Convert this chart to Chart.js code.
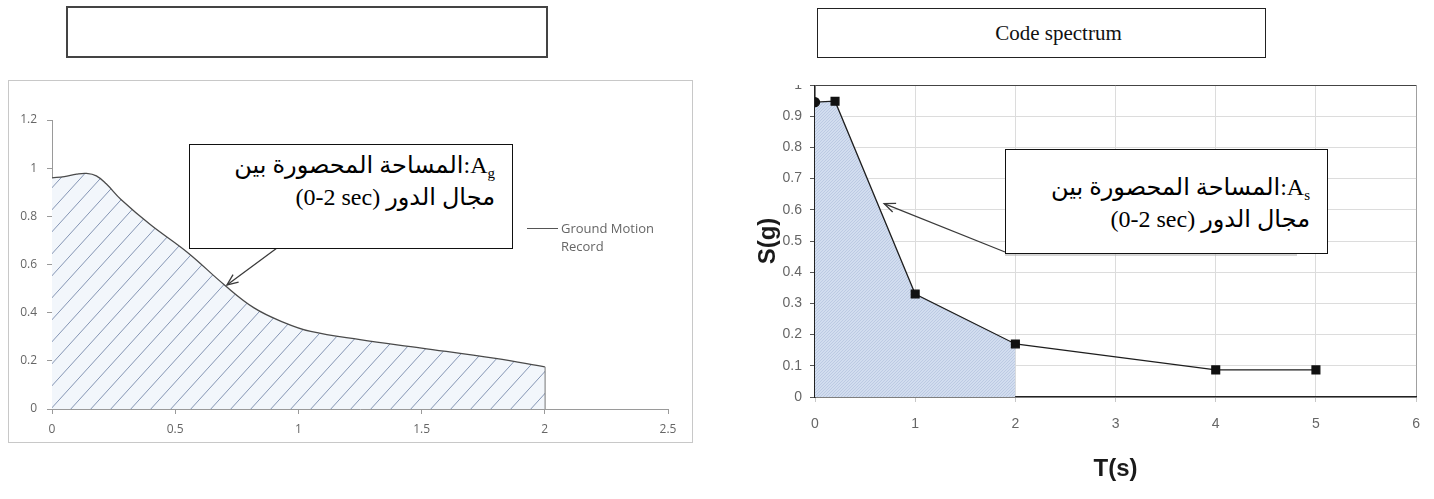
<!DOCTYPE html>
<html>
<head>
<meta charset="utf-8">
<script src="https://cdn.jsdelivr.net/npm/chart.js@4.4.1/dist/chart.umd.min.js"></script>
<style>
body { margin:0; width:1434px; height:499px; background:#fff; position:relative; overflow:hidden; }
.box { position:absolute; box-sizing:border-box; background:#fff; }
#topLeft { left:66px; top:6px; width:482px; height:52px; border:2px solid #444; }
#topRight { left:817px; top:8px; width:449px; height:50px; border:1.5px solid #222;
  font:21px "Liberation Serif", serif; color:#111; display:flex; align-items:center; justify-content:center; padding-left:34px; }
#frameL { left:8px; top:80px; width:685px; height:363px; border:1px solid #c8c8c8; }
#frameL canvas { position:absolute; left:0; top:0; }
#wrapR { position:absolute; left:740px; top:85px; width:694px; height:414px; overflow:hidden; }
#wrapR canvas { position:absolute; left:0; top:-25px; }
.note { position:absolute; box-sizing:border-box; background:#fff; border:1.5px solid #111; z-index:2;
  font-family:"Liberation Serif","DejaVu Sans",serif; font-size:24px; color:#000;
  padding-right:17px; text-align:right; white-space:nowrap; }
.note > div { height:32px; line-height:32px; overflow:visible; }
.note sub { font-size:15px; vertical-align:baseline; position:relative; top:5px; line-height:0; }
#noteL { left:189px; top:144px; width:324px; height:105px; padding-top:4px; }
#noteR { left:1005px; top:149px; width:323px; height:105px; padding-top:21px; }
#legL { position:absolute; left:527px; top:219px; font:13px "Open Sans", sans-serif; color:#666; line-height:18px; z-index:1; }
#legL .ln { position:absolute; left:0; top:9px; width:31px; border-top:1px solid #555; }
#legL .tx { position:absolute; left:34px; top:0; white-space:nowrap; }
</style>
</head>
<body>
<div class="box" id="topLeft"></div>
<div class="box" id="topRight">Code spectrum</div>

<div class="box" id="frameL"><canvas id="chartL" width="683" height="361"></canvas></div>
<div id="legL"><div class="ln"></div><div class="tx">Ground Motion<br>Record</div></div>
<div class="note" id="noteL" dir="rtl"><div>A<sub>g</sub>:المساحة المحصورة بين</div><div>مجال الدور <bdi dir="ltr">(0-2 sec)</bdi></div></div>

<div id="wrapR"><canvas id="chartR" width="694" height="439"></canvas></div>
<div class="note" id="noteR" dir="rtl"><div>A<sub>s</sub>:المساحة المحصورة بين</div><div>مجال الدور <bdi dir="ltr">(0-2 sec)</bdi></div></div>

<script>
// ground motion record (left)
const gmT = [0, 0.05, 0.1, 0.14, 0.18, 0.22, 0.28, 0.4, 0.55, 0.7, 0.82, 0.94, 1.05, 1.25, 1.5, 1.8, 2.0]
const gmS = [0.96, 0.965, 0.975, 0.978, 0.968, 0.935, 0.87, 0.765, 0.65, 0.515, 0.42, 0.36, 0.322, 0.288, 0.253, 0.21, 0.175]
const gmX = [0, 2.5, 0.5]   // min, max, step
const gmY = [0, 1.2, 0.2]

// code spectrum (right)
const csT = [0, 0.2, 1, 2, 4, 5]
const csS = [0.945, 0.948, 0.33, 0.17, 0.087, 0.087]
const csX = [0, 6, 1]
const csY = [0, 1, 0.1]
const areaLimit = 2   // shaded up to T = 2 s

const pts = (xs, ys) => xs.map((x, i) => ({ x: x, y: ys[i] }))
const plain = v => String(+v.toFixed(2))   // 1 instead of 1.0

function hatch(w, h, bg, fg) {
    const c = document.createElement('canvas')
    c.width = w; c.height = h
    const g = c.getContext('2d')
    g.fillStyle = bg; g.fillRect(0, 0, w, h)
    g.strokeStyle = fg; g.lineWidth = 1
    g.beginPath()
    for (const dx of [-w, 0, w]) { g.moveTo(dx, h); g.lineTo(dx + w, 0) }
    g.stroke()
    return g.createPattern(c, 'repeat')
}

// arrow from a note box to a point given in data units
const arrowPlugin = {
    id: 'arrow',
    afterDatasetsDraw(chart, args, opts) {
        const ctx = chart.ctx
        const r = chart.canvas.getBoundingClientRect()
        const tx = chart.scales.x.getPixelForValue(opts.tip[0])
        const ty = chart.scales.y.getPixelForValue(opts.tip[1])
        ctx.save()
        if (opts.guide) {
            ctx.strokeStyle = '#aaa'; ctx.lineWidth = 1
            ctx.beginPath()
            ctx.moveTo(opts.guide[0] - r.left, opts.guide[1] - r.top)
            ctx.lineTo(opts.guide[2] - r.left, opts.guide[3] - r.top)
            ctx.stroke()
        }
        const sx = opts.tail[0] - r.left, sy = opts.tail[1] - r.top
        ctx.strokeStyle = '#3a3a3a'; ctx.lineWidth = 1.3
        ctx.beginPath(); ctx.moveTo(sx, sy); ctx.lineTo(tx, ty); ctx.stroke()
        const a = Math.atan2(sy - ty, sx - tx)
        ctx.beginPath()
        ctx.moveTo(tx + 12 * Math.cos(a + 0.4), ty + 12 * Math.sin(a + 0.4))
        ctx.lineTo(tx, ty)
        ctx.lineTo(tx + 12 * Math.cos(a - 0.4), ty + 12 * Math.sin(a - 0.4))
        ctx.stroke()
        ctx.restore()
    }
}

const lastT = gmT[gmT.length - 1], lastS = gmS[gmS.length - 1]

new Chart(document.getElementById('chartL'), {
    type: 'line',
    data: {
        datasets: [{
            data: pts(gmT, gmS),
            borderColor: '#4a4a4a',
            borderWidth: 1.3,
            backgroundColor: hatch(20, 22, '#f2f6fb', '#8495b4'),
            fill: 'origin',
            tension: 0.4,
            pointRadius: 0
        }, {
            data: [{ x: lastT, y: lastS }, { x: lastT, y: 0 }],
            borderColor: '#4a4a4a',
            borderWidth: 1.3,
            pointRadius: 0,
            fill: false
        }]
    },
    options: {
        responsive: false,
        animation: false,
        layout: { padding: { left: 0, right: 24, top: 39, bottom: 0 } },
        plugins: {
            legend: { display: false },
            tooltip: { enabled: false },
            arrow: { tip: [0.71, 0.515], tail: [277, 248] }
        },
        scales: {
            x: {
                type: 'linear', min: gmX[0], max: gmX[1],
                ticks: { stepSize: gmX[2], color: '#666', padding: 8, callback: plain, font: { family: 'Open Sans', size: 12 } },
                grid: { drawOnChartArea: false, drawTicks: true, tickLength: 5, tickColor: '#9a9a9a' },
                border: { color: '#9a9a9a' },
                afterFit: s => { s.height = 33 }
            },
            y: {
                type: 'linear', min: gmY[0], max: gmY[1],
                ticks: { stepSize: gmY[2], color: '#666', padding: 10, callback: plain, font: { family: 'Open Sans', size: 12 } },
                grid: { drawOnChartArea: false, drawTicks: true, tickLength: 5, tickColor: '#9a9a9a' },
                border: { color: '#9a9a9a' },
                afterFit: s => { s.width = 43 }
            }
        }
    },
    plugins: [arrowPlugin]
})

const areaT = csT.filter(t => t <= areaLimit)
const areaS = csS.slice(0, areaT.length)

new Chart(document.getElementById('chartR'), {
    type: 'line',
    data: {
        datasets: [{
            data: pts(csT, csS),
            borderColor: '#1e1e1e',
            borderWidth: 1.3,
            tension: 0,
            fill: false,
            pointStyle: csT.map((t, i) => i === 0 ? 'circle' : 'rect'),
            pointRadius: csT.map((t, i) => i === 0 ? 4.5 : 5.5),
            pointBackgroundColor: '#111',
            pointBorderColor: '#111',
            order: 1
        }, {
            data: pts(areaT, areaS),
            borderWidth: 0,
            backgroundColor: hatch(3, 3, '#d2ddef', '#bccae3'),
            fill: 'origin',
            tension: 0,
            pointRadius: 0,
            order: 2
        }]
    },
    options: {
        responsive: false,
        animation: false,
        layout: { padding: { left: 0, right: 14, top: 25, bottom: 0 } },
        plugins: {
            legend: { display: false },
            tooltip: { enabled: false },
            arrow: { tip: [0.69, 0.62], tail: [1005, 252], guide: [1005, 255, 1297, 255] }
        },
        scales: {
            x: {
                type: 'linear', min: csX[0], max: csX[1],
                ticks: { stepSize: csX[2], color: '#666', padding: 14, callback: plain, font: { family: 'Liberation Sans', size: 14 } },
                grid: {
                    color: c => (c.tick && c.tick.value === csX[1]) ? '#a0a0a0' : '#dcdcdc',
                    drawTicks: true, tickLength: 5, tickColor: '#c8c8c8'
                },
                border: { color: '#222', width: 1.5 },
                title: { display: true, text: 'T(s)', color: '#1a1a1a', padding: { top: 0, bottom: 15 },
                    font: { family: 'Liberation Sans', size: 24, weight: 'bold' } },
                afterFit: s => { s.height = 102 }
            },
            y: {
                type: 'linear', min: csY[0], max: csY[1],
                ticks: { stepSize: csY[2], color: '#666', padding: 8, callback: plain, font: { family: 'Liberation Sans', size: 14 } },
                grid: {
                    color: c => (c.tick && Math.abs(c.tick.value - csY[1]) < 1e-6) ? '#444' : '#dcdcdc',
                    drawTicks: true, tickLength: 5, tickColor: '#555'
                },
                border: { color: '#222', width: 1.5 },
                title: { display: true, text: 'S(g)', color: '#1a1a1a', padding: { top: 14, bottom: 0 },
                    font: { family: 'Liberation Sans', size: 24, weight: 'bold' } },
                afterFit: s => { s.width = 75 }
            }
        }
    },
    plugins: [arrowPlugin]
})
</script>
</body>
</html>
